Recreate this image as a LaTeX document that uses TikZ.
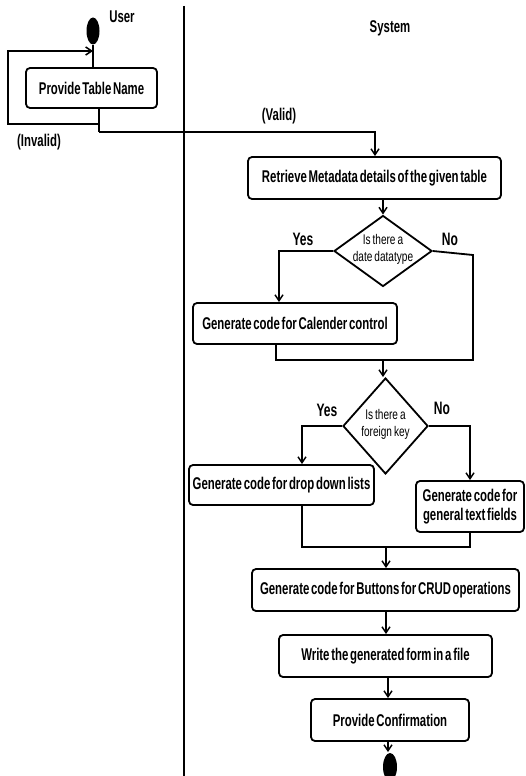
\documentclass[tikz,border=0pt]{standalone}
\usepackage{fontspec}
\setmainfont{Liberation Sans}[FakeStretch=0.67, WordSpace=0.55]
\newfontfamily\decfont{Liberation Sans}[FakeStretch=0.72, WordSpace=0.7]
\usetikzlibrary{shapes.geometric,arrows.meta}
\begin{document}
\begin{tikzpicture}[x=1pt, y=-1pt, line width=1.8pt, line join=miter,
  act/.style={draw, rounded corners=4pt, inner sep=0pt, align=center,
    font=\bfseries\fontsize{17}{19}\selectfont},
  dec/.style={draw, diamond, inner sep=0pt},
  dectext/.style={align=center, font=\decfont\fontsize{14}{17}\selectfont},
  lbl/.style={font=\bfseries\fontsize{18}{20}\selectfont},
  lane/.style={font=\bfseries\fontsize{17}{19}\selectfont},
  guard/.style={font=\bfseries\fontsize{17}{19}\selectfont},
  blob/.style={ellipse, fill=black, draw=none, inner sep=0pt},
  arr/.style={-{Straight Barb[length=6pt,width=8pt,line width=1.5pt]}}]
\useasboundingbox (0,0) rectangle (526,776);

% swimlane divider and lane titles
\coordinate (laneTop) at (184,6);
\coordinate (laneBot) at (184,776);
\draw[line width=1.2pt] (laneTop) -- (laneBot);
\node[lane] (user) at (122,17) {User};
\node[lane] (system) at (390,28) {System};

% initial and final states
\node[blob, minimum width=13pt, minimum height=27pt] (start) at (93,31) {};
\node[blob, minimum width=14pt, minimum height=28pt] (finish) at (390,767) {};

% activities
\node[act, minimum width=131pt, minimum height=40pt] (ptn) at (91.5,88) {Provide Table Name};
\node[act, minimum width=253pt, minimum height=42pt] (meta) at (374.5,178) {Retrieve Metadata details of the given table};
\node[act, minimum width=204pt, minimum height=41pt] (cal) at (295,323.5) {Generate code for Calender control};
\node[act, minimum width=185pt, minimum height=40pt] (drop) at (281.5,485) {Generate code for drop down lists};
\node[act, minimum width=108pt, minimum height=51pt] (gen) at (470,506.5) {Generate code for\\general text fields};
\node[act, minimum width=267pt, minimum height=42pt] (crud) at (385.5,590) {Generate code for Buttons for CRUD operations};
\node[act, minimum width=213pt, minimum height=42pt] (write) at (385.5,656) {Write the generated form in a file};
\node[act, minimum width=158pt, minimum height=42pt] (conf) at (390,720) {Provide Confirmation};

% decisions
\node[dec, minimum width=98pt, minimum height=71pt] (d1) at (383,251) {};
\node[dectext] (d1t) at (383,249) {Is there a\\date datatype};
\node[dec, minimum width=85pt, minimum height=96pt] (d2) at (385.5,426) {};
\node[dectext] (d2t) at (385.5,424) {Is there a\\foreign key};

% guard labels
\node[guard] (valid) at (279,116) {(Valid)};
\node[guard] (invalid) at (39,142) {(Invalid)};
\node[lbl] (yes1) at (303,239) {Yes};
\node[lbl] (no1) at (450,239) {No};
\node[lbl] (yes2) at (327,410) {Yes};
\node[lbl] (no2) at (442,408) {No};

% routing points
\coordinate (ptnOut) at (99,108);
\coordinate (split) at (99,132);
\coordinate (loopA) at (99,124);
\coordinate (loopB) at (8,124);
\coordinate (loopC) at (8,51);
\coordinate (loopD) at (93,51);
\coordinate (validTurn) at (375,132);
\coordinate (y1a) at (279,251);
\coordinate (n1a) at (473,255);
\coordinate (n1b) at (473,360);
\coordinate (c1a) at (276,360);
\coordinate (m1) at (383,360);
\coordinate (y2a) at (302,426);
\coordinate (n2a) at (470,426);
\coordinate (j2a) at (302,547);
\coordinate (j2b) at (470,547);
\coordinate (m2) at (386,547);

% user lane flow
\draw (start.south) -- (start.south |- ptn.north);
\draw (ptnOut) -- (split);
\draw[arr] (loopA) -- (loopB) -- (loopC) -- (loopD);
\draw[arr] (split) -- (validTurn) -- (validTurn |- meta.north);

% system lane flow
\draw[arr] (d1.north |- meta.south) -- (d1.north);
\draw[arr] (d1.west) -- (y1a) -- (y1a |- cal.north);
\draw (d1.east) -- (n1a) -- (n1b) -- (c1a) -- (c1a |- cal.south);
\draw[arr] (m1) -- (m1 |- d2.north);
\draw[arr] (d2.west) -- (y2a) -- (y2a |- drop.north);
\draw[arr] (d2.east) -- (n2a) -- (n2a |- gen.north);
\draw (j2a |- drop.south) -- (j2a) -- (j2b) -- (j2b |- gen.south);
\draw[arr] (m2) -- (m2 |- crud.north);
\draw[arr] (m2 |- crud.south) -- (m2 |- write.north);
\draw[arr] (388,0 |- write.south) -- (388,0 |- conf.north);
\draw[arr] (388,0 |- conf.south) -- (388,0 |- finish.north);
\end{tikzpicture}
\end{document}
